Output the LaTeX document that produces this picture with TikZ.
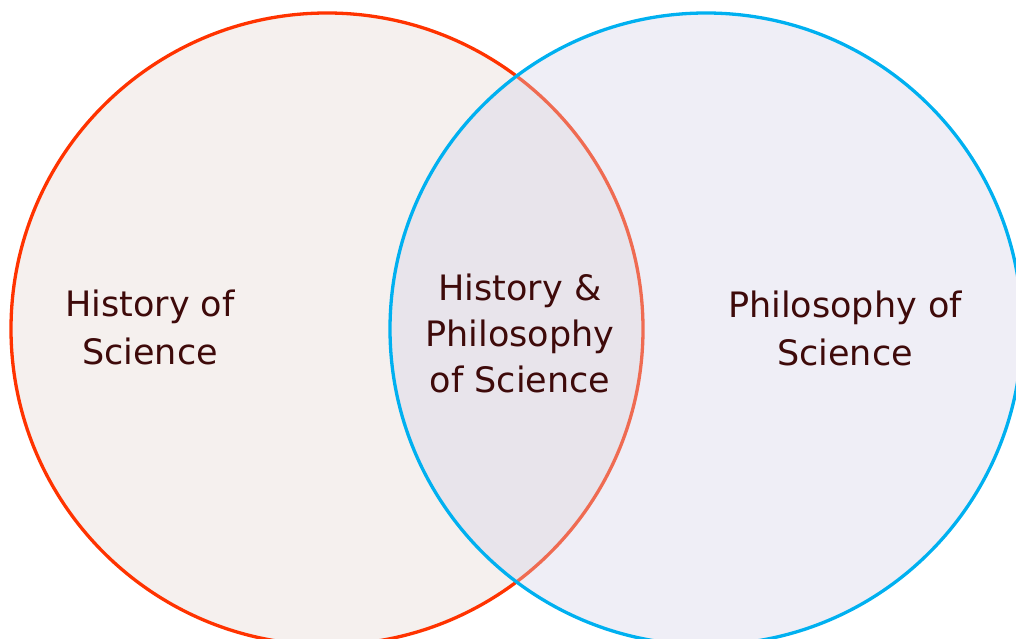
\documentclass[tikz,border=0pt]{standalone}
\usepackage{fontspec}
\setmainfont{DejaVu Sans}
\definecolor{leftfill}{RGB}{245,240,238}
\definecolor{rightfill}{RGB}{211,208,230}
\definecolor{redline}{RGB}{255,51,0}
\definecolor{blueline}{RGB}{0,176,240}
\definecolor{txt}{RGB}{62,10,10}
\tikzset{
  lbl/.style={align=center, text=txt, font=\fontsize{35}{48}\selectfont, inner sep=0pt, anchor=base},
  lbl2/.style={align=center, text=txt, font=\fontsize{35}{46}\selectfont, inner sep=0pt, anchor=base}
}
\begin{document}
\begin{tikzpicture}[x=1pt,y=-1pt]
\useasboundingbox (0,0) rectangle (1016,639);
\clip (0,0) rectangle (1016,639);
\node[circle, draw=redline, line width=3.3pt, fill=leftfill, minimum size=632pt, inner sep=0pt] (hist) at (327,329) {};
\node[circle, draw=blueline, line width=3.3pt, fill=rightfill, fill opacity=0.36, draw opacity=1, minimum size=632pt, inner sep=0pt] (phil) at (706,329) {};
\node[lbl] (h) at (150,364) {History of\\Science};
\node[lbl2] (hp) at (520,392) {History \&\\Philosophy\\of Science};
\node[lbl] (p) at (845,365) {Philosophy of\\Science};
\end{tikzpicture}
\end{document}
